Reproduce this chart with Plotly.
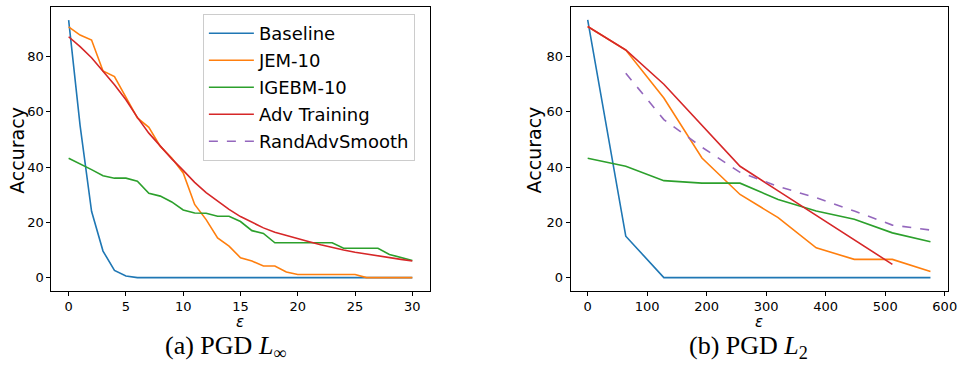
import plotly.graph_objects as go

# ---------------- data ----------------
eps_linf = list(range(31))
linf_baseline = [93.2, 55.0, 24.0, 9.6, 2.6, 0.6, 0, 0, 0, 0, 0, 0, 0, 0, 0, 0,
                 0, 0, 0, 0, 0, 0, 0, 0, 0, 0, 0, 0, 0, 0, 0]
linf_jem = [90.8, 87.8, 86.0, 74.8, 72.8, 65.2, 57.8, 54.4, 47.5, 43.3, 37.9,
            26.5, 21.0, 14.4, 11.4, 7.2, 6.0, 4.2, 4.2, 2.0, 1.1, 1.1, 1.1,
            1.1, 1.1, 1.1, 0, 0, 0, 0, 0]
linf_igebm = [43.2, 41.3, 39.1, 36.9, 36.0, 36.0, 34.9, 30.5, 29.5, 27.4, 24.5,
              23.4, 23.3, 22.2, 22.2, 20.3, 17.0, 16.0, 12.6, 12.6, 12.6, 12.6,
              12.6, 12.6, 10.6, 10.6, 10.6, 10.6, 8.4, 7.4, 6.2]
linf_adv = [87.2, 83.6, 79.6, 74.9, 69.8, 64.4, 58.0, 52.3, 47.5, 43.0, 38.8,
            34.5, 30.8, 27.6, 24.7, 22.1, 19.9, 18.0, 16.4, 15.2, 14.1, 13.0,
            11.9, 10.9, 10.0, 9.2, 8.5, 7.8, 7.2, 6.6, 6.0]

eps_l2 = [0, 64, 128, 192, 256, 320, 384, 448, 512, 576]
l2_baseline = [93.3, 15.0, 0, 0, 0, 0, 0, 0, 0, 0]
l2_jem = [90.9, 82.4, 65.0, 43.3, 30.1, 21.7, 10.8, 6.6, 6.6, 2.2]
l2_igebm = [43.2, 40.3, 35.1, 34.2, 34.2, 28.3, 24.1, 21.1, 16.2, 13.0]
eps_l2_adv = [0, 64, 128, 192, 256, 320, 384, 448, 512]
l2_adv = [90.9, 82.4, 70.0, 55.2, 40.3, 31.4, 22.5, 13.7, 4.8]
eps_l2_rand = [64, 128, 192, 256, 320, 384, 448, 512, 576]
l2_rand = [74.0, 57.2, 47.2, 38.1, 33.0, 28.9, 24.1, 19.0, 17.2]

names = ["Baseline", "JEM-10", "IGEBM-10", "Adv Training", "RandAdvSmooth"]
colors = ["#1f77b4", "#ff7f0e", "#2ca02c", "#d62728", "#9467bd"]
xticks_linf = [0, 5, 10, 15, 20, 25, 30]
xticks_l2 = [0, 100, 200, 300, 400, 500, 600]
yticks = [0, 20, 40, 60, 80]
captions = ["(a) PGD <i>L</i><sub>∞</sub>", "(b) PGD <i>L</i><sub>2</sub>"]

W, H = 968, 366
LW = 1.6
FONT = "DejaVu Sans"

fig = go.Figure()

left_series = [linf_baseline, linf_jem, linf_igebm, linf_adv]
for i, ys in enumerate(left_series):
    fig.add_trace(go.Scatter(x=eps_linf, y=ys, mode="lines", name=names[i],
                             line=dict(color=colors[i], width=LW),
                             legendgroup=names[i], showlegend=True,
                             xaxis="x", yaxis="y"))

right_series = [(eps_l2, l2_baseline), (eps_l2, l2_jem), (eps_l2, l2_igebm),
                (eps_l2_adv, l2_adv)]
for i, (xs, ys) in enumerate(right_series):
    fig.add_trace(go.Scatter(x=xs, y=ys, mode="lines", name=names[i],
                             line=dict(color=colors[i], width=LW),
                             legendgroup=names[i], showlegend=False,
                             xaxis="x2", yaxis="y2"))
fig.add_trace(go.Scatter(x=eps_l2_rand, y=l2_rand, mode="lines", name=names[4],
                         line=dict(color=colors[4], width=LW, dash="dash"),
                         legendgroup=names[4], showlegend=True,
                         xaxis="x2", yaxis="y2"))

def px(x):
    return x / W

def py(y):
    return 1 - y / H

ydom = [py(290.5), py(7)]
axis_common = dict(showline=True, linecolor="black", linewidth=1, mirror=True,
                   ticks="outside", ticklen=4, tickwidth=1, tickcolor="black",
                   showgrid=False, zeroline=False,
                   tickfont=dict(family=FONT, size=13, color="black"))

fig.update_layout(
    width=W, height=H, autosize=False,
    margin=dict(l=0, r=0, t=0, b=0),
    paper_bgcolor="white", plot_bgcolor="white",
    xaxis=dict(domain=[px(52), px(434)], range=[-1.5, 31.5],
               tickvals=xticks_linf, anchor="y", **axis_common),
    yaxis=dict(domain=ydom, range=[-4.67, 97.97], tickvals=yticks,
               anchor="x", **axis_common),
    xaxis2=dict(domain=[px(576.5), px(957.5)], range=[-28.8, 604.8],
                tickvals=xticks_l2, anchor="y2", **axis_common),
    yaxis2=dict(domain=ydom, range=[-4.67, 97.97], tickvals=yticks,
                anchor="x2", **axis_common),
    legend=dict(x=px(205), y=py(14), xanchor="left", yanchor="top",
                bgcolor="rgba(255,255,255,0.8)", bordercolor="#cccccc",
                borderwidth=1, font=dict(family=FONT, size=18, color="black"),
                traceorder="grouped", tracegroupgap=0.6, itemwidth=45),
    font=dict(family=FONT, color="black"),
)

ann = []
for xc in [17, 540]:
    ann.append(dict(text="Accuracy", x=px(xc), y=py(150), xref="paper", yref="paper",
                    textangle=-90, showarrow=False, xanchor="center", yanchor="middle",
                    font=dict(family=FONT, size=19, color="black")))
for xc in [242, 767]:
    ann.append(dict(text="<i>ε</i>", x=px(xc), y=py(322), xref="paper", yref="paper",
                    showarrow=False, xanchor="center", yanchor="middle",
                    font=dict(family=FONT, size=15, color="black")))
for xc, cap in zip([228, 756], captions):
    ann.append(dict(text=cap, x=px(xc), y=py(347), xref="paper", yref="paper",
                    showarrow=False, xanchor="center", yanchor="middle",
                    font=dict(family="Liberation Serif", size=26, color="black")))
fig.update_layout(annotations=ann)

fig.write_html(
    "out.html",
    config={"responsive": False, "displayModeBar": False},
    post_script="document.body.style.margin='0';document.body.style.overflow='hidden';",
)
